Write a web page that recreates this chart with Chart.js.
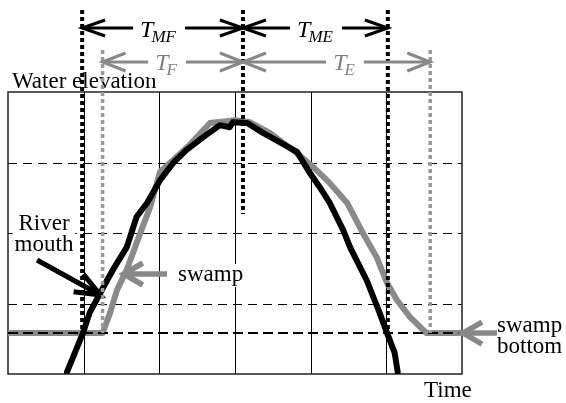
<!DOCTYPE html>
<html>
<head>
<meta charset="utf-8">
<script src="https://cdn.jsdelivr.net/npm/chart.js@4"></script>
<style>
  body { margin: 0; background: #fff; }
  #wrap { width: 566px; height: 403px; }
</style>
</head>
<body>
<div id="wrap"><canvas id="chart" width="566" height="403"></canvas></div>
<script>
// River mouth water level (black curve)
const riverX = [7.8, 9.9, 10.8, 12.2, 13.1, 14.1, 15.7, 17.0, 18.4, 20.1, 21.8, 23.6, 25.8, 28.0, 29.3, 29.7, 31.6, 33.7, 35.9, 38.2, 39.9, 41.2, 42.5, 44.3, 45.2, 47.4, 49.1, 50.1, 51.1, 51.5];
const riverY = [0.3, 5.8, 8.7, 11.5, 13.3, 15.2, 18.0, 22.3, 24.3, 27.5, 29.9, 31.8, 33.6, 35.3, 35.0, 35.7, 35.6, 34.2, 32.9, 31.5, 28.5, 26.5, 24.3, 20.4, 18.0, 13.3, 8.7, 5.8, 3.0, 0.3];

// Swamp water level (gray curve)
const swampX = [0, 12.5, 13.5, 14.4, 15.7, 17.0, 17.8, 18.8, 20.1, 22.1, 24.0, 26.7, 30.0, 32.0, 34.6, 38.2, 40.3, 42.5, 44.8, 46.9, 48.7, 50.1, 51.4, 53.1, 55.3, 60];
const swampY = [5.8, 5.8, 8.7, 11.9, 14.8, 18.6, 20.9, 23.7, 28.7, 30.6, 32.5, 35.6, 36.0, 35.7, 34.2, 31.3, 29.4, 27.1, 24.3, 20.0, 16.6, 12.9, 10.5, 8.1, 5.8, 5.8];

// grid
const xTicks = [0, 10, 20, 30, 40, 50, 60];
const yTicks = [0, 10, 20, 30, 40];
const swampBottom = 5.8;

// event times
const riverStart = 9.8, peakTime = 31.05, riverEnd = 50.2;
const swampStart = 12.5, swampEnd = 55.8;

const SERIF = '"Liberation Serif", "Times New Roman", serif';

function toPoints(xs, ys) {
    return xs.map((x, i) => ({ x: x, y: ys[i] }));
}

// open V arrow head at (x2,y2)
function arrow(ctx, x1, y1, x2, y2, color, width, headLen, headHalf, both) {
    ctx.save();
    ctx.strokeStyle = color;
    ctx.lineWidth = width;
    ctx.lineCap = 'butt';
    ctx.beginPath();
    ctx.moveTo(x1, y1);
    ctx.lineTo(x2, y2);
    ctx.stroke();
    const heads = both ? [[x1, y1, x2, y2], [x2, y2, x1, y1]] : [[x1, y1, x2, y2]];
    heads.forEach(h => {
        const dx = h[2] - h[0], dy = h[3] - h[1];
        const len = Math.sqrt(dx * dx + dy * dy);
        const ux = dx / len, uy = dy / len;
        const bx = h[2] - ux * headLen, by = h[3] - uy * headLen;
        ctx.beginPath();
        ctx.moveTo(bx - uy * headHalf, by + ux * headHalf);
        ctx.lineTo(h[2], h[3]);
        ctx.lineTo(bx + uy * headHalf, by - ux * headHalf);
        ctx.stroke();
    });
    ctx.restore();
}

function subLabel(ctx, cx, y, main, sub, color) {
    ctx.save();
    ctx.font = 'italic 24px ' + SERIF;
    const w1 = ctx.measureText(main).width;
    ctx.font = 'italic 17px ' + SERIF;
    const w2 = ctx.measureText(sub).width;
    const total = w1 + w2;
    const left = cx - total / 2;
    ctx.fillStyle = '#fff';
    ctx.fillRect(left - 7, y - 18, total + 14, 26);
    ctx.fillStyle = color;
    ctx.textBaseline = 'alphabetic';
    ctx.font = 'italic 24px ' + SERIF;
    ctx.fillText(main, left, y);
    ctx.font = 'italic 17px ' + SERIF;
    ctx.fillText(sub, left + w1 - 2, y + 5);
    ctx.restore();
}

function textBox(ctx, lines, x, baselines, align) {
    ctx.save();
    ctx.font = '23px ' + SERIF;
    ctx.textAlign = align;
    ctx.textBaseline = 'alphabetic';
    let w = 0;
    lines.forEach(l => { w = Math.max(w, ctx.measureText(l).width); });
    const left = align === 'center' ? x - w / 2 : x;
    ctx.fillStyle = '#fff';
    ctx.fillRect(left - 2, baselines[0] - 17, w + 4, baselines[baselines.length - 1] - baselines[0] + 23);
    ctx.fillStyle = '#000';
    lines.forEach((l, i) => ctx.fillText(l, x, baselines[i]));
    ctx.restore();
}

function vDotted(ctx, x, yTop, yBot, color, width) {
    ctx.save();
    ctx.strokeStyle = color;
    ctx.lineWidth = width;
    ctx.setLineDash([4, 3]);
    ctx.beginPath();
    ctx.moveTo(x, yTop);
    ctx.lineTo(x, yBot);
    ctx.stroke();
    ctx.restore();
}

const backdrop = {
    id: 'backdrop',
    beforeDraw(chart) {
        const ctx = chart.ctx;
        ctx.save();
        ctx.fillStyle = '#fff';
        ctx.fillRect(0, 0, chart.width, chart.height);
        ctx.restore();
    }
};

const grid = {
    id: 'grid',
    beforeDatasetsDraw(chart) {
        const ctx = chart.ctx;
        const xs = chart.scales.x, ys = chart.scales.y;
        const top = ys.getPixelForValue(40), bot = ys.getPixelForValue(0);
        const left = xs.getPixelForValue(0), right = xs.getPixelForValue(60);
        ctx.save();
        // dashed horizontals
        ctx.strokeStyle = '#000';
        ctx.lineWidth = 1;
        ctx.setLineDash([9, 6]);
        yTicks.slice(1, -1).forEach(v => {
            const y = Math.round(ys.getPixelForValue(v)) + 0.5;
            ctx.beginPath();
            ctx.moveTo(left, y);
            ctx.lineTo(right, y);
            ctx.stroke();
        });
        ctx.setLineDash([]);
        // solid verticals
        xTicks.slice(1, -1).forEach(v => {
            const x = Math.round(xs.getPixelForValue(v)) + 0.5;
            ctx.beginPath();
            ctx.moveTo(x, top);
            ctx.lineTo(x, bot);
            ctx.stroke();
        });
        // frame
        ctx.strokeStyle = '#222';
        ctx.lineWidth = 1.5;
        ctx.strokeRect(left, top, right - left, bot - top);
        ctx.restore();
    }
};

const marks = {
    id: 'marks',
    afterDatasetsDraw(chart) {
        const ctx = chart.ctx;
        const xs = chart.scales.x, ys = chart.scales.y;
        const px = v => xs.getPixelForValue(v);
        const py = v => ys.getPixelForValue(v);
        const bottomY = py(swampBottom);

        // swamp bottom level
        ctx.save();
        ctx.strokeStyle = '#000';
        ctx.lineWidth = 2;
        ctx.setLineDash([10, 5]);
        ctx.beginPath();
        ctx.moveTo(px(0), bottomY);
        ctx.lineTo(px(60), bottomY);
        ctx.stroke();
        ctx.restore();

        // labels
        ctx.save();
        ctx.font = '23px ' + SERIF;
        ctx.fillStyle = '#000';
        ctx.fillText('Water elevation', 12, 88);
        ctx.fillText('Time', 424, 397);
        ctx.restore();
        textBox(ctx, ['River', 'mouth'], 44, [230, 251], 'center');
        textBox(ctx, ['swamp'], 178, [281], 'left');
        textBox(ctx, ['swamp', 'bottom'], 497, [332, 353], 'left');

        // pointer arrows
        arrow(ctx, 37, 260, px(12.2), py(11.2), '#000', 5, 25, 10, false);
        arrow(ctx, 167, 274, px(15.3), 274, '#888', 5.5, 19, 11, false);
        arrow(ctx, 497, bottomY, px(60) + 1, bottomY, '#888', 5.5, 19, 11, false);

        // event markers
        const topBlack = 10, topGray = 50;
        vDotted(ctx, px(riverStart), topBlack, bottomY, '#000', 4);
        vDotted(ctx, px(riverEnd), topBlack, bottomY, '#000', 4);
        vDotted(ctx, px(peakTime), topBlack, 214, '#000', 4);
        vDotted(ctx, px(swampStart), topGray, bottomY, '#999', 3.5);
        vDotted(ctx, px(swampEnd), topGray, bottomY, '#999', 3.5);

        // durations
        const rowBlack = 28, rowGray = 62;
        arrow(ctx, px(riverStart), rowBlack, px(peakTime), rowBlack, '#000', 3, 23, 8, true);
        arrow(ctx, px(peakTime), rowBlack, px(riverEnd), rowBlack, '#000', 3, 23, 8, true);
        arrow(ctx, px(swampStart), rowGray, px(peakTime), rowGray, '#888', 3, 23, 9, true);
        arrow(ctx, px(peakTime), rowGray, px(swampEnd), rowGray, '#888', 3, 23, 9, true);
        subLabel(ctx, 159, 37, 'T', 'MF', '#000');
        subLabel(ctx, 316, 37, 'T', 'ME', '#000');
        subLabel(ctx, 167, 70, 'T', 'F', '#808080');
        subLabel(ctx, 345, 70, 'T', 'E', '#808080');
    }
};

new Chart(document.getElementById('chart'), {
    type: 'line',
    data: {
        datasets: [
            {
                label: 'River mouth',
                data: toPoints(riverX, riverY),
                borderColor: '#000',
                borderWidth: 6,
                pointRadius: 0,
                tension: 0,
                borderJoinStyle: 'round',
                borderCapStyle: 'round'
            },
            {
                label: 'Swamp',
                data: toPoints(swampX, swampY),
                borderColor: '#8a8a8a',
                borderWidth: 6,
                pointRadius: 0,
                tension: 0,
                borderJoinStyle: 'round',
                borderCapStyle: 'round'
            }
        ]
    },
    options: {
        responsive: false,
        animation: false,
        layout: { padding: { left: 8, right: 104, top: 92, bottom: 29 } },
        scales: {
            x: { type: 'linear', min: 0, max: 60, display: false },
            y: { min: 0, max: 40, display: false }
        },
        plugins: {
            legend: { display: false },
            tooltip: { enabled: false }
        }
    },
    plugins: [backdrop, grid, marks]
});
</script>
</body>
</html>
